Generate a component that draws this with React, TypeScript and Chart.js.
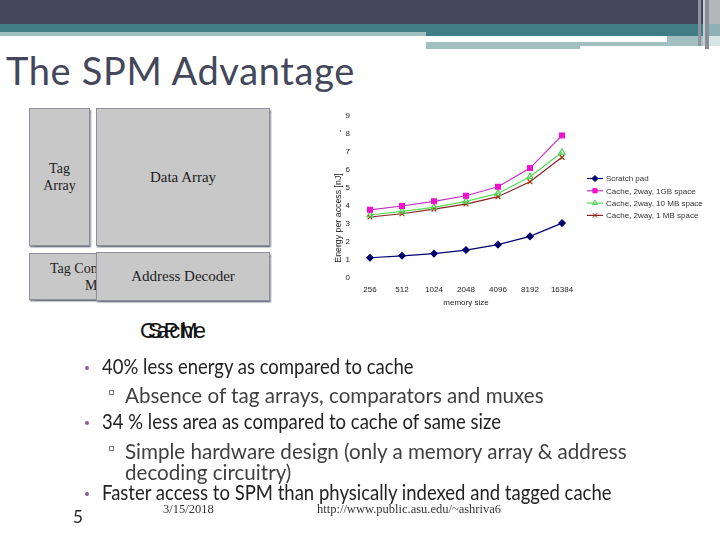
import { useEffect, useRef } from 'react';
import type { CSSProperties } from 'react';
import { Chart, registerables } from 'chart.js';
import { drawPoint } from 'chart.js/helpers';

Chart.register(...registerables);

const memorySizes = ['256', '512', '1024', '2048', '4096', '8192', '16384'];
const yTicks = [0, 1, 2, 3, 4, 5, 6, 7, 8, 9];
const yTitle = 'Energy per access [nJ]';

const scratchPad = [1.11, 1.22, 1.34, 1.54, 1.84, 2.3, 3.04];
const cache1GB = [3.78, 3.99, 4.25, 4.56, 5.06, 6.1, 7.92];
const cache10MB = [3.49, 3.69, 3.91, 4.25, 4.69, 5.62, 6.98];
const cache1MB = [3.38, 3.56, 3.82, 4.1, 4.51, 5.34, 6.7];

const AXIS_FONT = '"Liberation Sans", Arial, sans-serif';
const BODY_FONT = 'Lato, sans-serif';
const SERIF_FONT = '"Liberation Serif", serif';

// legend in the old Excel look: short line with the marker on it
const lineLegend = {
  id: 'lineLegend',
  afterDraw(chart: Chart) {
    const { ctx } = chart;
    ctx.save();
    chart.data.datasets.forEach((ds: any, i: number) => {
      const y = 178.5 + i * 12.3;
      ctx.strokeStyle = ds.borderColor;
      ctx.lineWidth = 1.2;
      ctx.beginPath();
      ctx.moveTo(587, y);
      ctx.lineTo(603, y);
      ctx.stroke();
      ctx.fillStyle = ds.pointBackgroundColor;
      ctx.strokeStyle = ds.pointBorderColor;
      ctx.lineWidth = 1;
      drawPoint(ctx, { pointStyle: ds.pointStyle, rotation: 0, radius: 3, borderWidth: 1 }, 595, y);
      ctx.fillStyle = '#333333';
      ctx.font = `8px ${AXIS_FONT}`;
      ctx.textBaseline = 'middle';
      ctx.fillText(ds.label, 606, y + 0.5);
    });
    // the y title sits lower than the middle of the axis, so it is drawn here
    ctx.translate(339, 218);
    ctx.rotate(-Math.PI / 2);
    ctx.fillStyle = '#222222';
    ctx.font = `8.8px ${AXIS_FONT}`;
    ctx.textAlign = 'center';
    ctx.textBaseline = 'middle';
    ctx.fillText(yTitle, 0, 0);
    ctx.restore();
  },
};

function EnergyChart() {
  const canvasRef = useRef<HTMLCanvasElement>(null);

  useEffect(() => {
    if (!canvasRef.current) return;
    const chart = new Chart(canvasRef.current, {
      type: 'line',
      data: {
        labels: memorySizes,
        datasets: [
          {
            label: 'Scratch pad',
            data: scratchPad,
            borderColor: '#000070',
            borderWidth: 1.2,
            tension: 0,
            pointStyle: 'rectRot',
            pointRadius: 3.2,
            pointBackgroundColor: '#000070',
            pointBorderColor: '#000070',
          },
          {
            label: 'Cache, 2way, 1GB space',
            data: cache1GB,
            borderColor: '#c030c0',
            borderWidth: 1.2,
            tension: 0,
            pointStyle: 'rect',
            pointRadius: 3.4,
            pointBackgroundColor: '#f010d0',
            pointBorderColor: '#f010d0',
          },
          {
            label: 'Cache, 2way, 10 MB space',
            data: cache10MB,
            borderColor: '#55dd55',
            borderWidth: 1.2,
            tension: 0,
            pointStyle: 'triangle',
            pointRadius: 3.6,
            pointBackgroundColor: 'rgba(255,255,255,0)',
            pointBorderColor: '#55cc55',
          },
          {
            label: 'Cache, 2way, 1 MB space',
            data: cache1MB,
            borderColor: '#8c2020',
            borderWidth: 1.2,
            tension: 0,
            pointStyle: 'crossRot',
            pointRadius: 3.4,
            pointBackgroundColor: '#a03000',
            pointBorderColor: '#a03000',
          },
        ],
      },
      options: {
        responsive: false,
        animation: false,
        layout: { padding: { left: 324, top: 116, right: 142, bottom: 232 } },
        plugins: { legend: { display: false }, tooltip: { enabled: false } },
        scales: {
          x: {
            offset: true,
            grid: { display: false, tickLength: 0 },
            border: { display: false },
            ticks: { color: '#222222', font: { size: 8, family: AXIS_FONT }, maxRotation: 0, padding: 7 },
            title: {
              display: true,
              text: 'memory size',
              color: '#222222',
              font: { size: 8, family: AXIS_FONT },
              padding: { top: 5, bottom: 0 },
            },
            afterFit: (s: any) => {
              s.height = 30.3;
            },
          },
          y: {
            min: 0,
            max: 9,
            grid: { display: false, tickLength: 0 },
            border: { display: false },
            afterBuildTicks: (s: any) => {
              s.ticks = yTicks.map((value) => ({ value }));
            },
            ticks: { color: '#222222', font: { size: 8, family: AXIS_FONT }, padding: 4 },
            afterFit: (s: any) => {
              s.width = 30;
            },
          },
        },
      },
      plugins: [lineLegend],
    });
    return () => chart.destroy();
  }, []);

  return <canvas ref={canvasRef} width={720} height={540} style={{ position: 'absolute', left: 0, top: 0 }} />;
}

function Band({ x, y, w, h, c }: { x: number; y: number; w: number; h: number; c: string }) {
  return <div style={{ position: 'absolute', left: x, top: y, width: w, height: h, background: c }} />;
}

function Block({ x, y, w, h, lines, size = 15, align = 'center', pad = 0 }: {
  x: number; y: number; w: number; h: number; lines: string[]; size?: number; align?: 'center' | 'left'; pad?: number;
}) {
  const style: CSSProperties = {
    position: 'absolute',
    left: x,
    top: y,
    width: w,
    height: h,
    boxSizing: 'border-box',
    background: '#c8c8c8',
    border: '1.5px solid #8f8f9e',
    boxShadow: '1px 1.5px 1.5px #77778a',
    display: 'flex',
    flexDirection: 'column',
    justifyContent: 'center',
    alignItems: align === 'center' ? 'center' : 'flex-start',
    paddingLeft: pad,
    fontFamily: SERIF_FONT,
    fontSize: size,
    lineHeight: '17px',
    color: '#222222',
    whiteSpace: 'pre',
  };
  return <div style={style}>{lines.map((l) => <div key={l}>{l}</div>)}</div>;
}

function TextAt({ x, y, size, color, font = BODY_FONT, spacing = 0, stretch = 1, children }: {
  x: number; y: number; size: number; color: string; font?: string; spacing?: number; stretch?: number; children: string;
}) {
  return (
    <div style={{
      position: 'absolute', left: x, top: y, transform: `translateY(-50%) scaleY(${stretch})`, fontFamily: font,
      fontSize: size, letterSpacing: spacing, color, whiteSpace: 'nowrap', lineHeight: 1,
    }}>{children}</div>
  );
}

const mainBullets = [
  { y: 367, text: '40% less energy as compared to cache' },
  { y: 422, text: '34 % less area as compared to cache of same size' },
  { y: 493, text: 'Faster access to SPM than physically indexed and tagged cache' },
];
const subBullets = [
  { y: 395, mark: true, text: 'Absence of tag arrays, comparators and muxes' },
  { y: 451, mark: true, text: 'Simple hardware design (only a memory array & address' },
  { y: 472, mark: false, text: 'decoding circuitry)' },
];

export default function App() {
  return (
    <div style={{ position: 'absolute', left: 0, top: 0, width: 720, height: 540, background: '#ffffff', overflow: 'hidden' }}>
      <Band x={0} y={0} w={720} h={24} c="#44475a" />
      <Band x={0} y={24} w={720} h={12} c="#417d84" />
      <Band x={0} y={32} w={426} h={4} c="#a2bfc2" />
      <Band x={426} y={36} w={241} h={6} c="#ffffff" />
      <Band x={426} y={42} w={154} h={7} c="#a2bfc2" />
      <Band x={580} y={42} w={87} h={4} c="#a2bfc2" />
      <Band x={667} y={36} w={36} h={10} c="#a2bfc2" />
      <Band x={698} y={0} w={3} h={46} c="#8f93a0" />
      <Band x={703} y={0} w={2} h={46} c="#c9ccd2" />
      <Band x={705} y={0} w={4} h={49} c="#8a8d98" />
      <Band x={709} y={0} w={11} h={24} c="#b4b6bb" />
      <Band x={709} y={24} w={11} h={12} c="#8fb0b4" />
      <Band x={709} y={36} w={11} h={10} c="#d8e5e6" />

      <TextAt x={6} y={70} size={38} color="#44475a" spacing={0.65}>The SPM Advantage</TextAt>

      <Block x={29} y={108} w={61} h={138} lines={['Tag', 'Array']} size={14} />
      <Block x={96} y={108} w={174} h={138} lines={['Data Array']} />
      <Block x={29} y={253} w={75} h={47} lines={['Tag Comparators,', '          Muxes']} align="left" pad={20} size={14} />
      <Block x={96} y={252} w={174} h={49} lines={['Address Decoder']} />
      <TextAt x={140} y={331} size={22} color="#111111" font={AXIS_FONT} spacing={0.6}>Cache</TextAt>
      <TextAt x={148} y={331} size={22} color="#111111" font={AXIS_FONT} spacing={1}>SPM</TextAt>

      <EnergyChart />
      <Band x={340} y={130} w={1} h={2} c="#777777" />

      {mainBullets.map((b) => (
        <div key={b.y}>
          <div style={{ position: 'absolute', left: 84.5, top: b.y - 1.5, width: 4, height: 4, borderRadius: 2, background: '#8a5c96' }} />
          <TextAt x={102} y={b.y} size={18.5} stretch={1.1} color="#222222">{b.text}</TextAt>
        </div>
      ))}
      {subBullets.map((b) => (
        <div key={b.y}>
          {b.mark && <div style={{ position: 'absolute', left: 109, top: b.y - 5, width: 3, height: 3, border: '1px solid #777777' }} />}
          <TextAt x={125} y={b.y} size={20.6} stretch={1.05} color="#404040">{b.text}</TextAt>
        </div>
      ))}
      <TextAt x={73} y={516} size={17} color="#222222">5</TextAt>
      <TextAt x={163} y={509} size={12.5} color="#333333" font={SERIF_FONT}>3/15/2018</TextAt>
      <TextAt x={317} y={509} size={12.5} color="#333333" font={SERIF_FONT}>http://www.public.asu.edu/~ashriva6</TextAt>
    </div>
  );
}
